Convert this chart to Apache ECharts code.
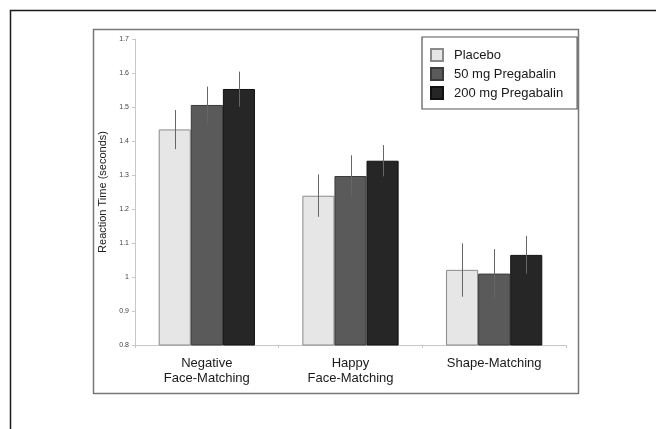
<!DOCTYPE html>
<html><head><meta charset="utf-8">
<script src="https://cdn.jsdelivr.net/npm/echarts@6/dist/echarts.min.js"></script>
<style>html,body{margin:0;padding:0;background:#fff}#c{width:656px;height:429px}</style>
</head><body><div id="c"></div>
<script>
const categories = ['Negative\nFace-Matching', 'Happy\nFace-Matching', 'Shape-Matching'];
const seriesNames = ['Placebo', '50 mg Pregabalin', '200 mg Pregabalin'];
const placebo = [1.434, 1.239, 1.021];
const mg50 = [1.506, 1.297, 1.010];
const mg200 = [1.553, 1.342, 1.065];
const placeboLow = [1.376, 1.177, 0.942];
const placeboHigh = [1.491, 1.302, 1.099];
const mg50Low = [1.452, 1.240, 0.937];
const mg50High = [1.560, 1.358, 1.082];
const mg200Low = [1.501, 1.296, 1.010];
const mg200High = [1.604, 1.388, 1.121];
const yTicks = { min: 0.8, max: 1.7, interval: 0.1 };

const values = [placebo, mg50, mg200];
const lows = [placeboLow, mg50Low, mg200Low];
const highs = [placeboHigh, mg50High, mg200High];
const fills = ['#e6e6e6', '#5a5a5a', '#262626'];
const borders = ['#8a8a8a', '#3a3a3a', '#111111'];
const catGap = 0.33;

const series = [];
values.forEach((v, i) => {
  series.push({
    name: seriesNames[i], type: 'bar', data: v,
    barGap: 0, barCategoryGap: (catGap * 100) + '%',
    itemStyle: { color: fills[i], borderColor: borders[i], borderWidth: 1 },
    z: 2
  });
});
values.forEach((v, i) => {
  series.push({
    type: 'custom', name: 'err' + i, z: 5,
    data: v.map((_, k) => [k, lows[i][k], highs[i][k]]),
    renderItem: function (params, api) {
      const k = api.value(0);
      const band = api.size([1, 0])[0];
      const bw = band * (1 - catGap) / 3;
      const lo = api.coord([k, api.value(1)]);
      const hi = api.coord([k, api.value(2)]);
      const x = Math.round(lo[0] + (i - 1) * bw) + 0.5;
      return { type: 'line', shape: { x1: x, y1: lo[1], x2: x, y2: hi[1] }, style: { stroke: '#666', lineWidth: 1 } };
    },
    encode: { x: 0, y: [1, 2] },
    silent: true
  });
});

const chart = echarts.init(document.getElementById('c'), null, { renderer: 'canvas' });
chart.setOption({
  animation: false,
  backgroundColor: '#fff',
  textStyle: { fontFamily: 'Liberation Sans, Arial, sans-serif' },
  grid: { left: 135, right: 90, top: 39, bottom: 84 },
  graphic: [
    { type: 'polyline', shape: { points: [[10.5, 429], [10.5, 10.5], [656, 10.5]] }, style: { stroke: '#1a1a1a', lineWidth: 1.5, fill: null }, z: 0 },
    { type: 'rect', shape: { x: 93.5, y: 29.5, width: 485, height: 364 }, style: { stroke: '#777', lineWidth: 1.5, fill: null }, z: 0 }
  ],
  legend: {
    data: seriesNames, orient: 'vertical', left: 422, top: 37,
    padding: [11, 14, 9, 8], itemGap: 5, itemWidth: 12, itemHeight: 12,
    icon: 'rect', borderColor: '#555', borderWidth: 1.2,
    textStyle: { fontSize: 13, color: '#1a1a1a', padding: [0, 0, 0, 6] }
  },
  xAxis: {
    type: 'category', data: categories,
    axisLine: { lineStyle: { color: '#c8c8c8', width: 1 } },
    axisTick: { show: true, length: 3, lineStyle: { color: '#c8c8c8' } },
    axisLabel: { fontSize: 13, lineHeight: 15, color: '#1a1a1a', margin: 11 }
  },
  yAxis: {
    type: 'value', min: yTicks.min, max: yTicks.max, interval: yTicks.interval,
    name: 'Reaction Time (seconds)', nameLocation: 'middle', nameGap: 22,
    nameTextStyle: { fontSize: 11, color: '#222' },
    axisLine: { show: true, lineStyle: { color: '#c8c8c8' } },
    axisTick: { show: true, length: 3, lineStyle: { color: '#c8c8c8' } },
    splitLine: { show: false },
    axisLabel: { fontSize: 7, color: '#444', margin: 6, formatter: v => String(Math.round(v * 10) / 10) }
  },
  series: series
});
</script></body></html>
